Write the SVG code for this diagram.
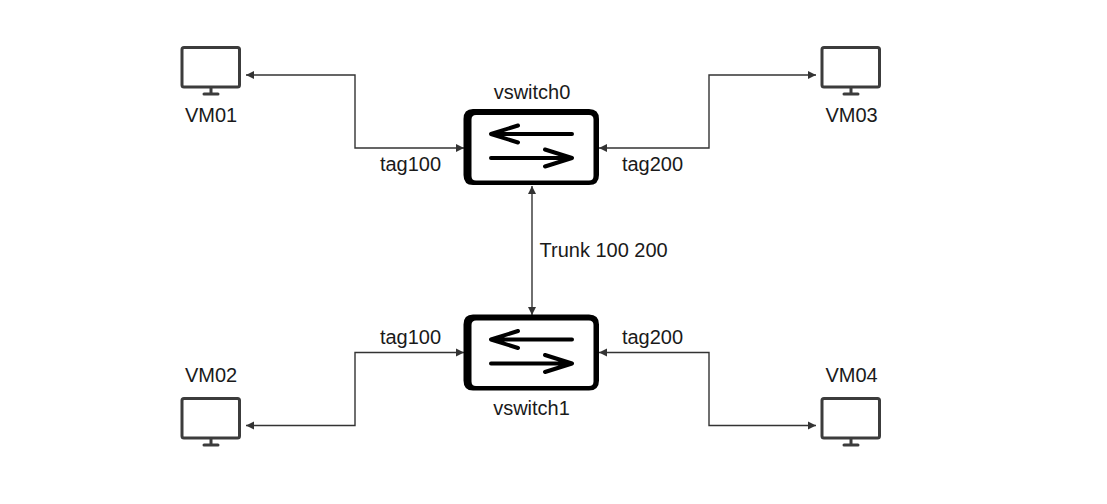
<svg xmlns="http://www.w3.org/2000/svg" width="1107" height="504" viewBox="0 0 1107 504">
<style>
text{font-family:"Liberation Sans",Arial,sans-serif;font-size:20px;fill:#1a1a1a}
.m{text-anchor:middle}
.c{fill:none;stroke:#333;stroke-width:1.4}
.mon{fill:none;stroke:#3c3c3c;stroke-width:3;stroke-linejoin:round;stroke-linecap:round}
.fr{fill:#000;fill-rule:evenodd}
.ar{fill:none;stroke:#000;stroke-width:4;stroke-linecap:round;stroke-linejoin:round}
</style>
<defs>
<marker id="a" markerUnits="userSpaceOnUse" markerWidth="9" markerHeight="9" refX="8" refY="4.5" orient="auto-start-reverse"><path d="M0 0.5L8 4.5L0 8.5Z" fill="#333"/></marker>
<g id="monitor"><rect class="mon" x="182" y="47.500" width="57.500" height="39.500" rx="2"/><path class="mon" d="M211 88V94M204 94H218"/></g>
<g id="switch"><path class="fr" d="M473 109H589Q599 109 599 119V175Q599 185 589 185H473Q463.500 185 463.500 175V119Q463.500 109 473 109ZM476 115Q471.500 115 471.500 119.500V176Q471.500 180.500 476 180.500H589Q593.500 180.500 593.500 176V119.500Q593.500 115 589 115Z"/><path class="ar" d="M572 134H491M518 125.500L491 134L518 142.500M491 158H572M545 149.500L572 158L545 166.500"/></g>
</defs>
<g id="connectors">
<path class="c" marker-start="url(#a)" marker-end="url(#a)" d="M246 75H355V148H464"/>
<path class="c" marker-start="url(#a)" marker-end="url(#a)" d="M816 75H709V148H599"/>
<path class="c" marker-start="url(#a)" marker-end="url(#a)" d="M246 425.500H355V352.500H464"/>
<path class="c" marker-start="url(#a)" marker-end="url(#a)" d="M816 425.500H709V352.500H599"/>
<path class="c" marker-start="url(#a)" marker-end="url(#a)" d="M532 186V315"/>
</g>
<g id="vswitch0"><use href="#switch"/><text class="m" x="532" y="99">vswitch0</text></g>
<g id="vswitch1"><use href="#switch" y="205.500"/><text class="m" x="531.500" y="415">vswitch1</text></g>
<g id="VM01"><use href="#monitor"/><text class="m" x="211" y="122">VM01</text></g>
<g id="VM03"><use href="#monitor" x="640"/><text class="m" x="851.500" y="122">VM03</text></g>
<g id="VM02"><use href="#monitor" y="351"/><text class="m" x="211" y="382">VM02</text></g>
<g id="VM04"><use href="#monitor" x="640" y="351"/><text class="m" x="851.500" y="382">VM04</text></g>
<g id="labels">
<text class="m" x="410.500" y="171">tag100</text>
<text class="m" x="652.500" y="171">tag200</text>
<text class="m" x="410.500" y="344">tag100</text>
<text class="m" x="652.500" y="344">tag200</text>
<text x="539.500" y="257">Trunk 100 200</text>
</g>
</svg>
